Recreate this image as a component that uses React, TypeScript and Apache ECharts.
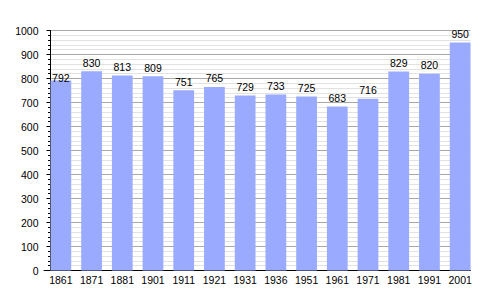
import React, { useEffect, useRef } from "react";
import * as echarts from "echarts";

const categories = ["1861", "1871", "1881", "1901", "1911", "1921", "1931", "1936", "1951", "1961", "1971", "1981", "1991", "2001"];
const population = [792, 830, 813, 809, 751, 765, 729, 733, 725, 683, 716, 829, 820, 950];
const yMin = 0;
const yMax = 1000;
const yInterval = 100;

const FONT = "'Liberation Sans', Arial, sans-serif";

export default function App() {
  const ref = useRef<HTMLDivElement>(null);
  useEffect(() => {
    if (!ref.current) return;
    const chart = echarts.init(ref.current, null, { renderer: "svg" });
    const barData = population.map((v, i) =>
      i === 0 ? { value: v, label: { offset: [0, 6] } } : v
    );
    chart.setOption({
      animation: false,
      backgroundColor: "#ffffff",
      grid: [
        { left: 50.5, right: 29.5, top: 30.5, bottom: 29.5 },
        { left: 45.5, right: 24.5, top: 30.5, bottom: 29.5 },
        { left: 44, right: 29.5, top: 30.5, bottom: 29.5 },
      ],
      xAxis: [
        { gridIndex: 0, type: "value", min: 0, max: 1, show: false },
        {
          gridIndex: 1,
          type: "category",
          data: categories,
          axisLine: { show: false },
          axisTick: { show: false },
          axisLabel: { color: "#000", fontFamily: FONT, fontSize: 10.5, margin: 4, interval: 0 },
        },
        {
          gridIndex: 2,
          type: "value",
          min: 0,
          max: 1,
          axisLine: { show: true, lineStyle: { color: "#000", width: 1 } },
          axisTick: { show: false },
          axisLabel: { show: false },
          splitLine: { show: false },
        },
      ],
      yAxis: [
        {
          gridIndex: 0,
          type: "value",
          min: yMin,
          max: yMax,
          interval: yInterval,
          axisLine: { show: true, lineStyle: { color: "#000", width: 1 } },
          axisTick: { show: true, length: 4, lineStyle: { color: "#000" } },
          minorTick: { show: true, splitNumber: 5, length: 2.5, lineStyle: { color: "#000" } },
          axisLabel: {
            color: "#000",
            fontFamily: FONT,
            fontSize: 10.5,
            margin: 12,
            formatter: (v: number) => String(v),
          },
          splitLine: { show: true, lineStyle: { color: "#a8a8a8", width: 1 } },
          minorSplitLine: { show: true, lineStyle: { color: "#e2e2e2", width: 1 } },
        },
        { gridIndex: 1, type: "value", min: yMin, max: yMax, show: false },
        { gridIndex: 2, type: "value", min: yMin, max: yMax, show: false },
      ],
      series: [
        {
          type: "bar",
          xAxisIndex: 1,
          yAxisIndex: 1,
          data: barData,
          barWidth: "67.5%",
          itemStyle: { color: "#99aaff" },
          label: {
            show: true,
            position: "top",
            distance: 3,
            color: "#000",
            fontFamily: FONT,
            fontSize: 10.5,
          },
          z: 3,
        },
      ],
    });
    return () => chart.dispose();
  }, []);
  return (
    <div
      ref={ref}
      style={{ position: "fixed", left: 0, top: 0, width: 500, height: 300 }}
    />
  );
}
